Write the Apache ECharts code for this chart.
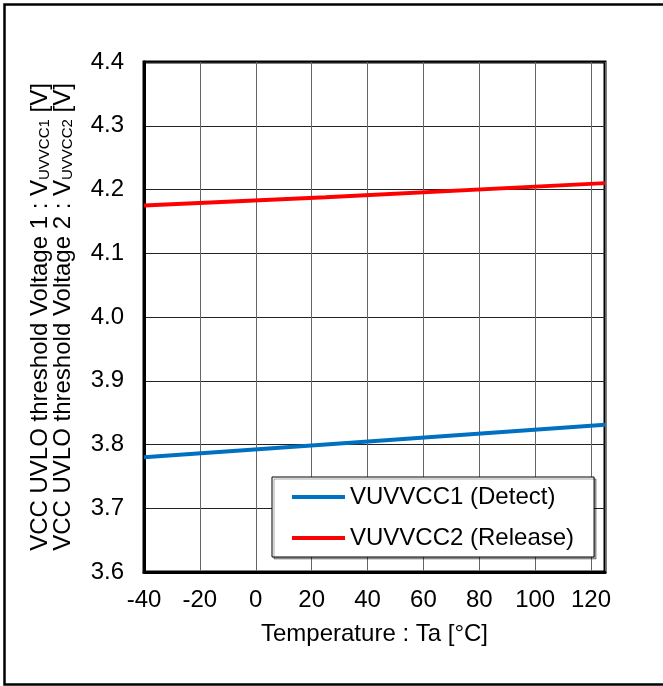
<!DOCTYPE html>
<html>
<head>
<meta charset="utf-8">
<script src="https://cdn.jsdelivr.net/npm/echarts@6/dist/echarts.min.js"></script>
<style>
html,body{margin:0;padding:0;background:#fff;}
#chart{width:663px;height:686px;}
</style>
</head>
<body>
<div id="chart"></div>
<script>
// Data
const temperatures = [-40, 25, 125];
const vuvvcc1Detect = [3.780, 3.800, 3.831];
const vuvvcc2Release = [4.175, 4.188, 4.210];
const seriesNames = ['VUVVCC1 (Detect)', 'VUVVCC2 (Release)'];
const xAxisTitle = 'Temperature : Ta [°C]';

const FONT = '"Liberation Sans", Arial, sans-serif';
const chart = echarts.init(document.getElementById('chart'), null, {renderer: 'canvas'});

function pairs(xs, ys) { return xs.map((x, i) => [x, ys[i]]); }

chart.setOption({
  animation: false,
  backgroundColor: '#fff',
  textStyle: {fontFamily: FONT, color: '#000'},
  graphic: [{
    type: 'rect',
    shape: {x: 4.5, y: 4.5, width: 700, height: 680},
    style: {fill: 'none', stroke: '#000', lineWidth: 2.5},
    z: 100
  }],
  grid: {
    left: 144, top: 62, right: 58, bottom: 114,
    show: true, borderColor: '#000', borderWidth: 3, backgroundColor: 'transparent'
  },
  legend: {
    orient: 'vertical',
    left: 272, top: 477,
    padding: [8, 20, 7, 20],
    itemGap: 17,
    itemWidth: 53,
    itemHeight: 4,
    icon: 'rect',
    borderColor: '#000',
    borderWidth: 1,
    backgroundColor: '#fff',
    shadowColor: 'rgba(0,0,0,0.35)',
    shadowOffsetX: 2,
    shadowOffsetY: 2,
    shadowBlur: 0,
    textStyle: {fontFamily: FONT, fontSize: 24, color: '#000', lineHeight: 24},
    data: seriesNames
  },
  xAxis: {
    type: 'value',
    min: -40, max: 125, interval: 20,
    name: xAxisTitle,
    nameLocation: 'middle',
    nameGap: 50,
    nameTextStyle: {fontFamily: FONT, fontSize: 24, color: '#000'},
    axisLine: {show: true, onZero: false, lineStyle: {color: '#000', width: 3}},
    axisTick: {show: false},
    axisLabel: {fontFamily: FONT, fontSize: 24, color: '#000', margin: 16, showMaxLabel: false},
    splitLine: {show: true, lineStyle: {color: '#666', width: 1}}
  },
  yAxis: {
    type: 'value',
    min: 3.6, max: 4.4, interval: 0.1,
    name: '{a|VCC UVLO threshold Voltage 1 : V}{s|UVVCC1}{a| [V]}\n{a|VCC UVLO threshold Voltage 2 : V}{s|UVVCC2}{a| [V]}',
    nameLocation: 'middle',
    nameRotate: 90,
    nameGap: 69,
    nameTextStyle: {
      fontFamily: FONT, color: '#000',
      rich: {
        a: {fontFamily: FONT, fontSize: 24, lineHeight: 23, color: '#000'},
        s: {fontFamily: FONT, fontSize: 15, lineHeight: 23, color: '#000', verticalAlign: 'bottom', padding: [8, 0, 0, 0]}
      }
    },
    axisLine: {show: true, onZero: false, lineStyle: {color: '#000', width: 3}},
    axisTick: {show: false},
    axisLabel: {fontFamily: FONT, fontSize: 24, color: '#000', margin: 20,
      formatter: v => v.toFixed(1)},
    splitLine: {show: true, lineStyle: {color: '#222', width: 1}}
  },
  series: [
    {
      name: seriesNames[0], type: 'line', data: pairs(temperatures, vuvvcc1Detect),
      showSymbol: false, symbol: 'none', smooth: false,
      lineStyle: {color: '#0070C0', width: 4}, itemStyle: {color: '#0070C0'}
    },
    {
      name: seriesNames[1], type: 'line', data: pairs(temperatures, vuvvcc2Release),
      showSymbol: false, symbol: 'none', smooth: false,
      lineStyle: {color: '#FF0000', width: 4}, itemStyle: {color: '#FF0000'}
    }
  ]
});
</script>
</body>
</html>
